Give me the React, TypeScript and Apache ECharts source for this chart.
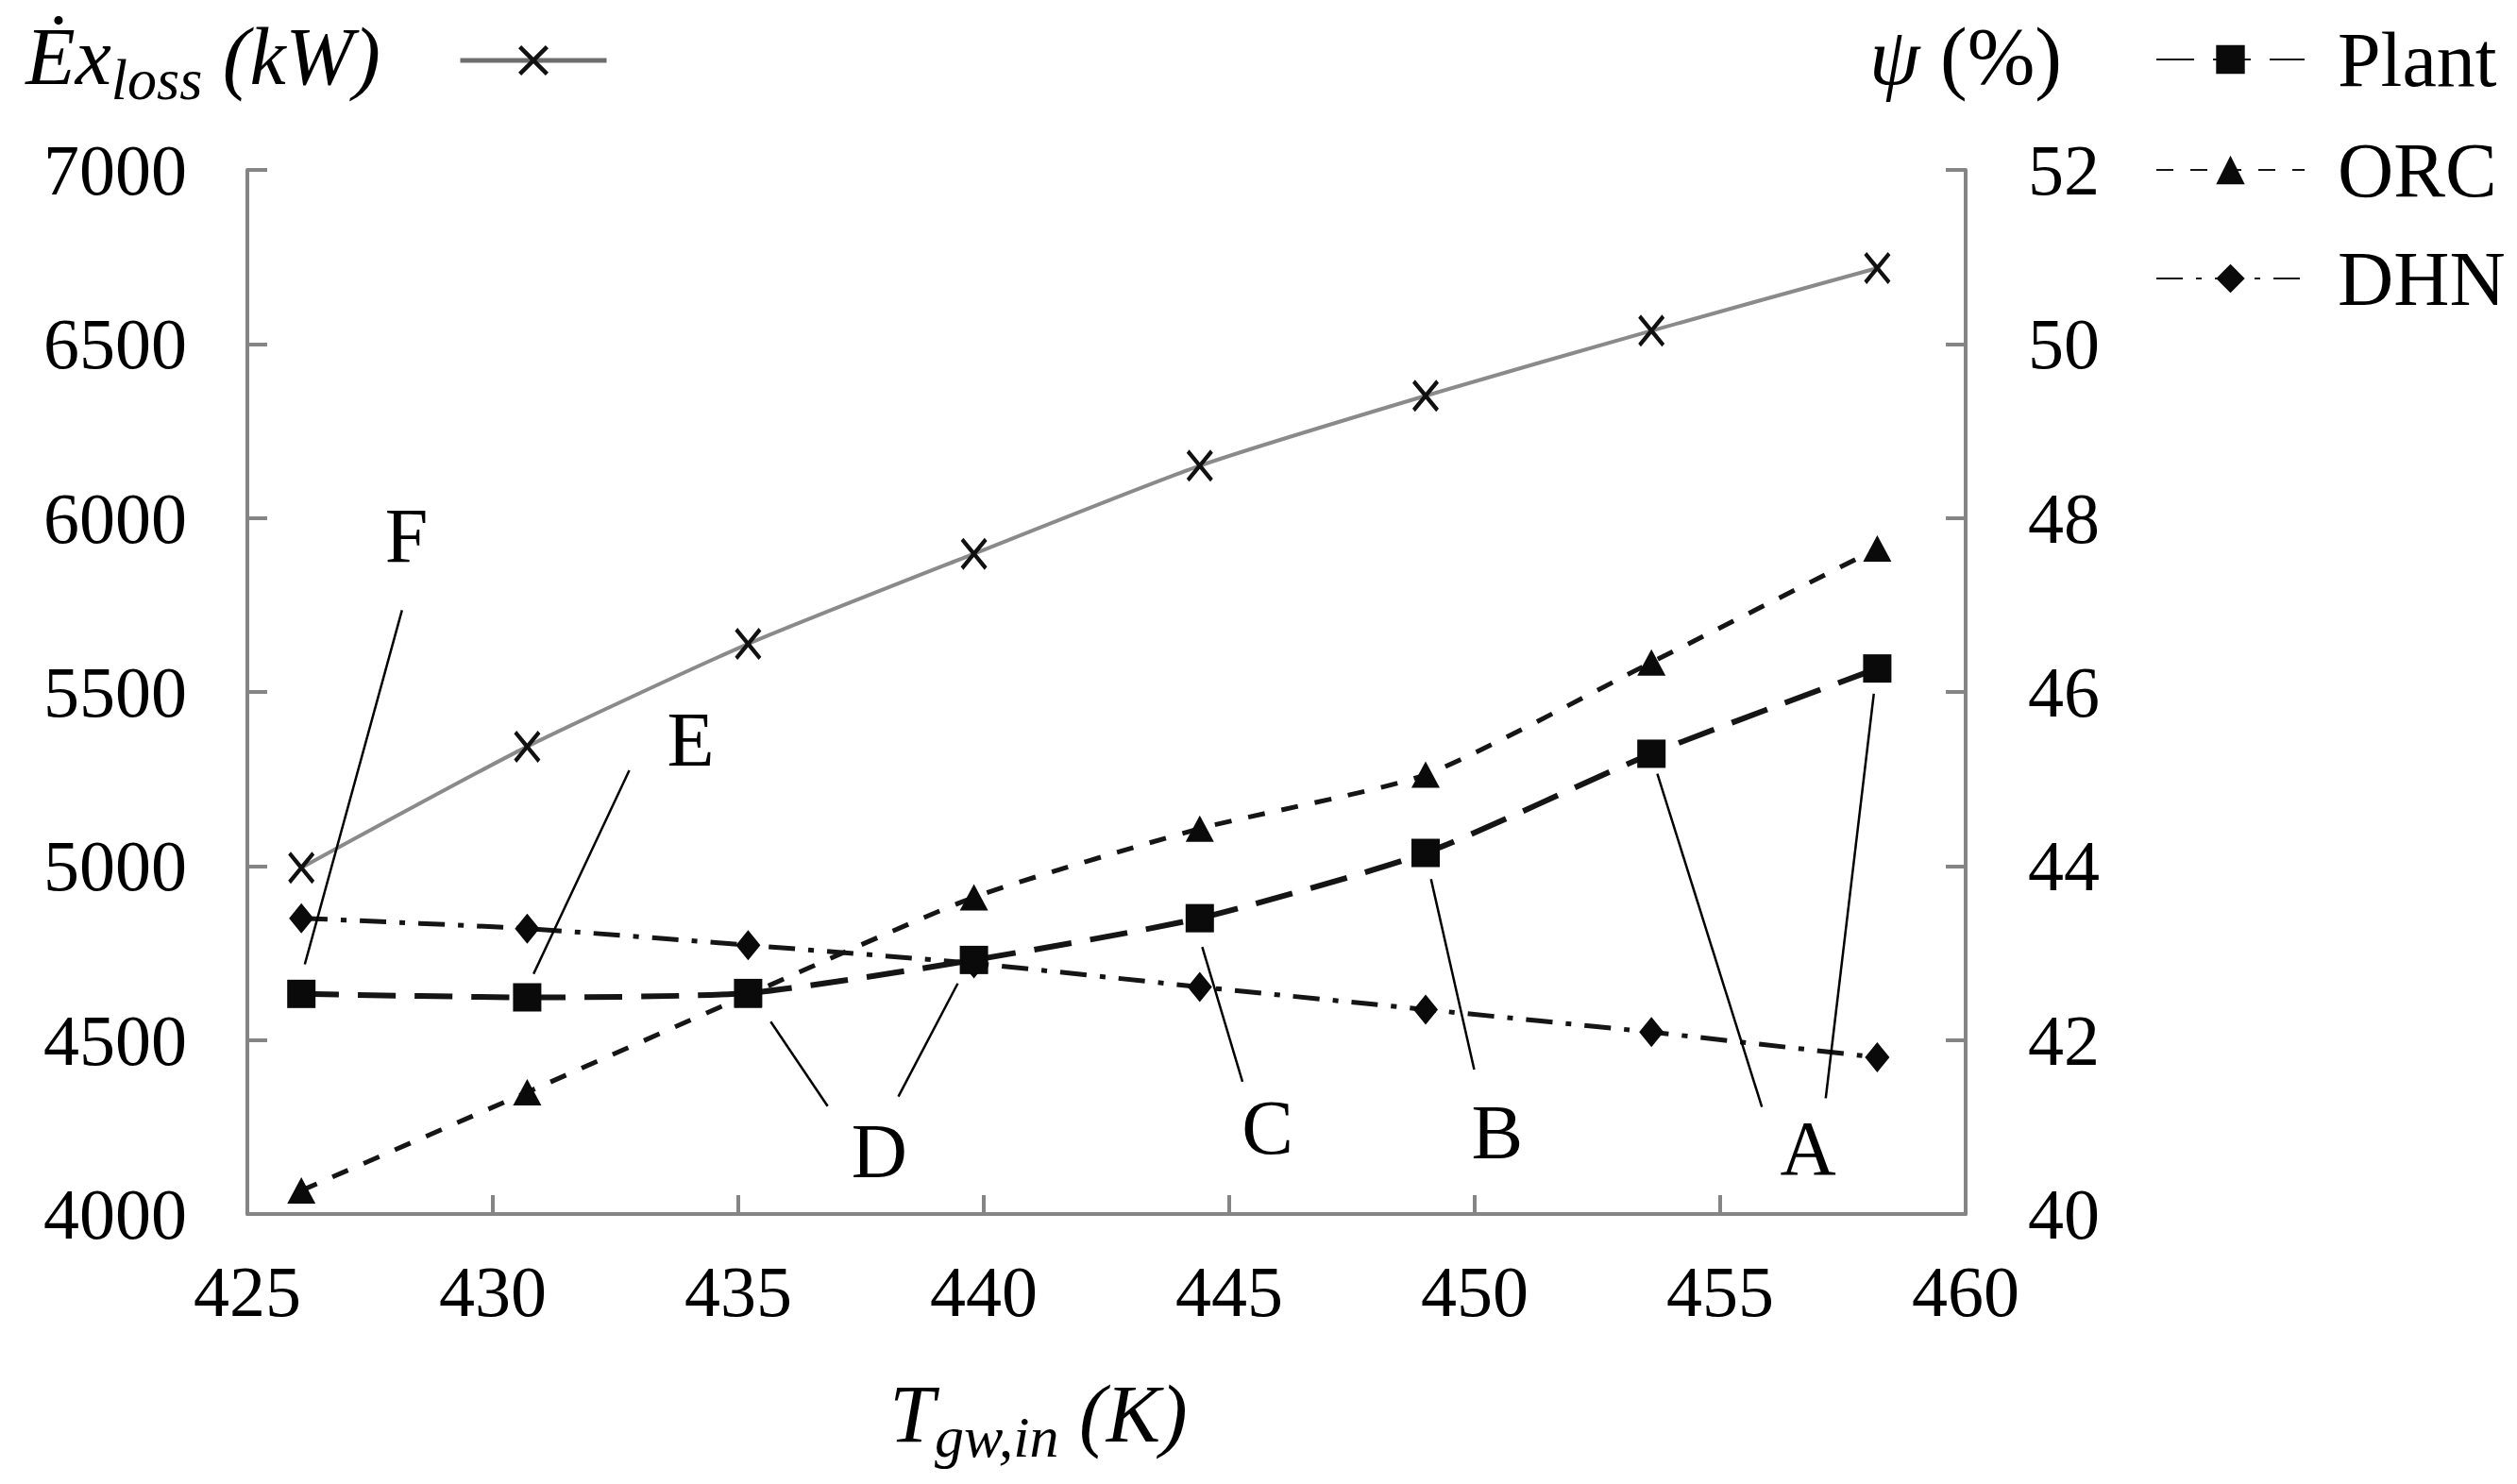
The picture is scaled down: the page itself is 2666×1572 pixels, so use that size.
import React, { useEffect, useRef } from "react";
import * as echarts from "echarts";

// ---- data ----
const temps = [426.1, 430.7, 435.2, 439.8, 444.4, 449.0, 453.6, 458.2];
const exLoss = [4995, 5343, 5638, 5897, 6150, 6351, 6538, 6718];
const plant = [42.53, 42.49, 42.54, 42.92, 43.4, 44.15, 45.29, 46.27];
const orc = [40.27, 41.4, 42.52, 43.64, 44.43, 45.05, 46.34, 47.65];
const dhn = [43.4, 43.28, 43.09, 42.88, 42.61, 42.35, 42.09, 41.8];

const xTicksMin = 425;
const xTicksMax = 460;
const leftMin = 4000;
const leftMax = 7000;
const rightMin = 40;
const rightMax = 52;

// annotation leader lines (data coords: temperature, psi)
const annotationSegments: [number, number, number, number][] = [
  [428.15, 46.94, 426.17, 42.87],
  [432.78, 45.1, 430.83, 42.76],
  [436.82, 41.24, 435.66, 42.21],
  [438.26, 41.35, 439.47, 42.65],
  [445.27, 41.52, 444.45, 43.07],
  [449.99, 41.66, 449.11, 43.85],
  [455.85, 41.23, 453.72, 45.06],
  [457.15, 41.33, 458.13, 45.98],
];
const annotationNames = ["F", "E", "D", "C", "B", "A"];
const annotationX = [428.24, 434.03, 437.87, 445.78, 450.46, 456.79];
const annotationY = [47.8, 45.45, 40.72, 40.99, 40.94, 40.75];

const FONT = "'Liberation Serif', 'DejaVu Serif', serif";
const AXIS_GRAY = "#858585";
const TEXT = "#000";
const X_PATH =
  "path://M1,0 L5,4 L9,0 L10,1 L6,5 L10,9 L9,10 L5,6 L1,10 L0,9 L4,5 L0,1 Z";

export default function App() {
  const ref = useRef<HTMLDivElement>(null);

  useEffect(() => {
    if (!ref.current) return;
    const chart = echarts.init(ref.current, undefined, { renderer: "svg" });

    const labelStyle = {
      fontFamily: FONT,
      fontSize: 76,
      color: TEXT,
    };

    const legendText = {
      fontFamily: FONT,
      fontSize: 82,
      color: TEXT,
      padding: [0, 0, 0, 30],
    };

    const legendCommon = {
      padding: 0,
      itemWidth: 157,
      itemHeight: 38,
      selectedMode: false,
      textStyle: legendText,
    };

    const option: any = {
      animation: false,
      backgroundColor: "#ffffff",
      grid: { left: 262, right: 584, top: 180, bottom: 286, containLabel: false },
      legend: [
        {
          data: ["Exloss"],
          left: 485,
          top: 44,
          padding: 0,
          itemWidth: 155,
          itemHeight: 40,
          selectedMode: false,
          formatter: () => "",
          textStyle: { fontSize: 10 },
          lineStyle: { width: 5, color: "#6e6e6e" },
        },
        { ...legendCommon, data: ["Plant"], left: 2283, top: 22 },
        { ...legendCommon, data: ["ORC"], left: 2283, top: 139 },
        { ...legendCommon, data: ["DHN"], left: 2283, top: 254 },
      ],
      xAxis: {
        type: "value",
        min: xTicksMin,
        max: xTicksMax,
        interval: 5,
        name: "{e|T}{s|gw,in}{e| (K)}",
        nameLocation: "middle",
        nameGap: 212,
        nameTextStyle: {
          fontFamily: FONT,
          align: "center",
          verticalAlign: "middle",
          padding: [0, 144, 0, 0],
          rich: {
            e: { fontFamily: FONT, fontStyle: "italic", fontSize: 86, lineHeight: 110, verticalAlign: "middle", color: TEXT },
            s: { fontFamily: FONT, fontStyle: "italic", fontSize: 62, lineHeight: 62, verticalAlign: "bottom", color: TEXT },
          },
        },
        axisLine: { lineStyle: { color: AXIS_GRAY, width: 4 } },
        axisTick: { inside: true, length: 20, lineStyle: { color: AXIS_GRAY, width: 4 } },
        axisLabel: { ...labelStyle, margin: 44, formatter: (v: number) => String(v) },
        splitLine: { show: false },
      },
      yAxis: [
        {
          type: "value",
          min: leftMin,
          max: leftMax,
          interval: 500,
          position: "left",
          name: "{e|Ėx}{s|loss}{e| (kW)}",
          nameLocation: "end",
          nameGap: 120,
          nameTextStyle: {
            fontFamily: FONT,
            align: "center",
            verticalAlign: "middle",
            padding: [0, 94, 0, 0],
            rich: {
              e: { fontFamily: FONT, fontStyle: "italic", fontSize: 86, lineHeight: 110, verticalAlign: "middle", color: TEXT },
              s: { fontFamily: FONT, fontStyle: "italic", fontSize: 62, lineHeight: 62, verticalAlign: "bottom", color: TEXT },
            },
          },
          axisLine: { show: true, lineStyle: { color: AXIS_GRAY, width: 4 } },
          axisTick: { show: true, inside: true, length: 21, lineStyle: { color: AXIS_GRAY, width: 4 } },
          axisLabel: { ...labelStyle, margin: 64, formatter: (v: number) => String(v) },
          splitLine: { show: false },
        },
        {
          type: "value",
          min: rightMin,
          max: rightMax,
          interval: 2,
          position: "right",
          name: "{p|ψ}{n| (%)}",
          nameLocation: "end",
          nameGap: 120,
          nameTextStyle: {
            fontFamily: FONT,
            align: "center",
            verticalAlign: "middle",
            rich: {
              p: { fontFamily: FONT, fontStyle: "italic", fontSize: 86, lineHeight: 110, color: TEXT },
              n: { fontFamily: FONT, fontSize: 86, lineHeight: 110, color: TEXT },
            },
          },
          axisLine: { show: true, lineStyle: { color: AXIS_GRAY, width: 4 } },
          axisTick: { show: true, inside: true, length: 21, lineStyle: { color: AXIS_GRAY, width: 4 } },
          axisLabel: { ...labelStyle, margin: 66, formatter: (v: number) => String(v) },
          splitLine: { show: false },
        },
      ],
      series: [
        {
          name: "Exloss",
          type: "line",
          xAxisIndex: 0,
          yAxisIndex: 0,
          data: temps.map((t, i) => [t, exLoss[i]]),
          smooth: 0.2,
          symbol: X_PATH,
          symbolSize: [28, 34],
          itemStyle: { color: "#111" },
          lineStyle: { color: "#8a8a8a", width: 4 },
          z: 3,
        },
        {
          name: "Plant",
          type: "line",
          xAxisIndex: 0,
          yAxisIndex: 1,
          data: temps.map((t, i) => [t, plant[i]]),
          smooth: 0.2,
          symbol: "rect",
          symbolSize: 30,
          itemStyle: { color: "#0a0a0a" },
          lineStyle: { color: "#151515", width: 6, type: [40, 20] },
          z: 4,
        },
        {
          name: "ORC",
          type: "line",
          xAxisIndex: 0,
          yAxisIndex: 1,
          data: temps.map((t, i) => [t, orc[i]]),
          smooth: 0.2,
          symbol: "triangle",
          symbolSize: [30, 28],
          itemStyle: { color: "#0a0a0a" },
          lineStyle: { color: "#151515", width: 5, type: [18, 18] },
          z: 3,
        },
        {
          name: "DHN",
          type: "line",
          xAxisIndex: 0,
          yAxisIndex: 1,
          data: temps.map((t, i) => [t, dhn[i]]),
          smooth: 0.2,
          symbol: "diamond",
          symbolSize: [26, 32],
          itemStyle: { color: "#0a0a0a" },
          lineStyle: { color: "#151515", width: 5, type: [28, 14, 6, 14] },
          z: 3,
        },
        {
          name: "annotation-lines",
          type: "lines",
          coordinateSystem: "cartesian2d",
          xAxisIndex: 0,
          yAxisIndex: 1,
          polyline: false,
          silent: true,
          symbol: "none",
          lineStyle: { color: "#000", width: 2.5, opacity: 1, curveness: 0 },
          data: annotationSegments.map((s) => ({
            coords: [
              [s[0], s[1]],
              [s[2], s[3]],
            ],
          })),
          z: 5,
        },
        {
          name: "annotation-labels",
          type: "scatter",
          xAxisIndex: 0,
          yAxisIndex: 1,
          silent: true,
          symbol: "circle",
          symbolSize: 0.1,
          itemStyle: { color: "#000" },
          label: {
            show: true,
            position: "inside",
            formatter: "{b}",
            fontFamily: FONT,
            fontSize: 82,
            color: TEXT,
            textBorderWidth: 0,
            opacity: 1,
          },
          data: annotationNames.map((n, i) => ({ name: n, value: [annotationX[i], annotationY[i]] })),
          z: 6,
        },
      ],
    };

    chart.setOption(option);
    return () => chart.dispose();
  }, []);

  return (
    <div
      ref={ref}
      style={{ position: "absolute", left: 0, top: 0, width: 2666, height: 1572, background: "#fff" }}
    />
  );
}
